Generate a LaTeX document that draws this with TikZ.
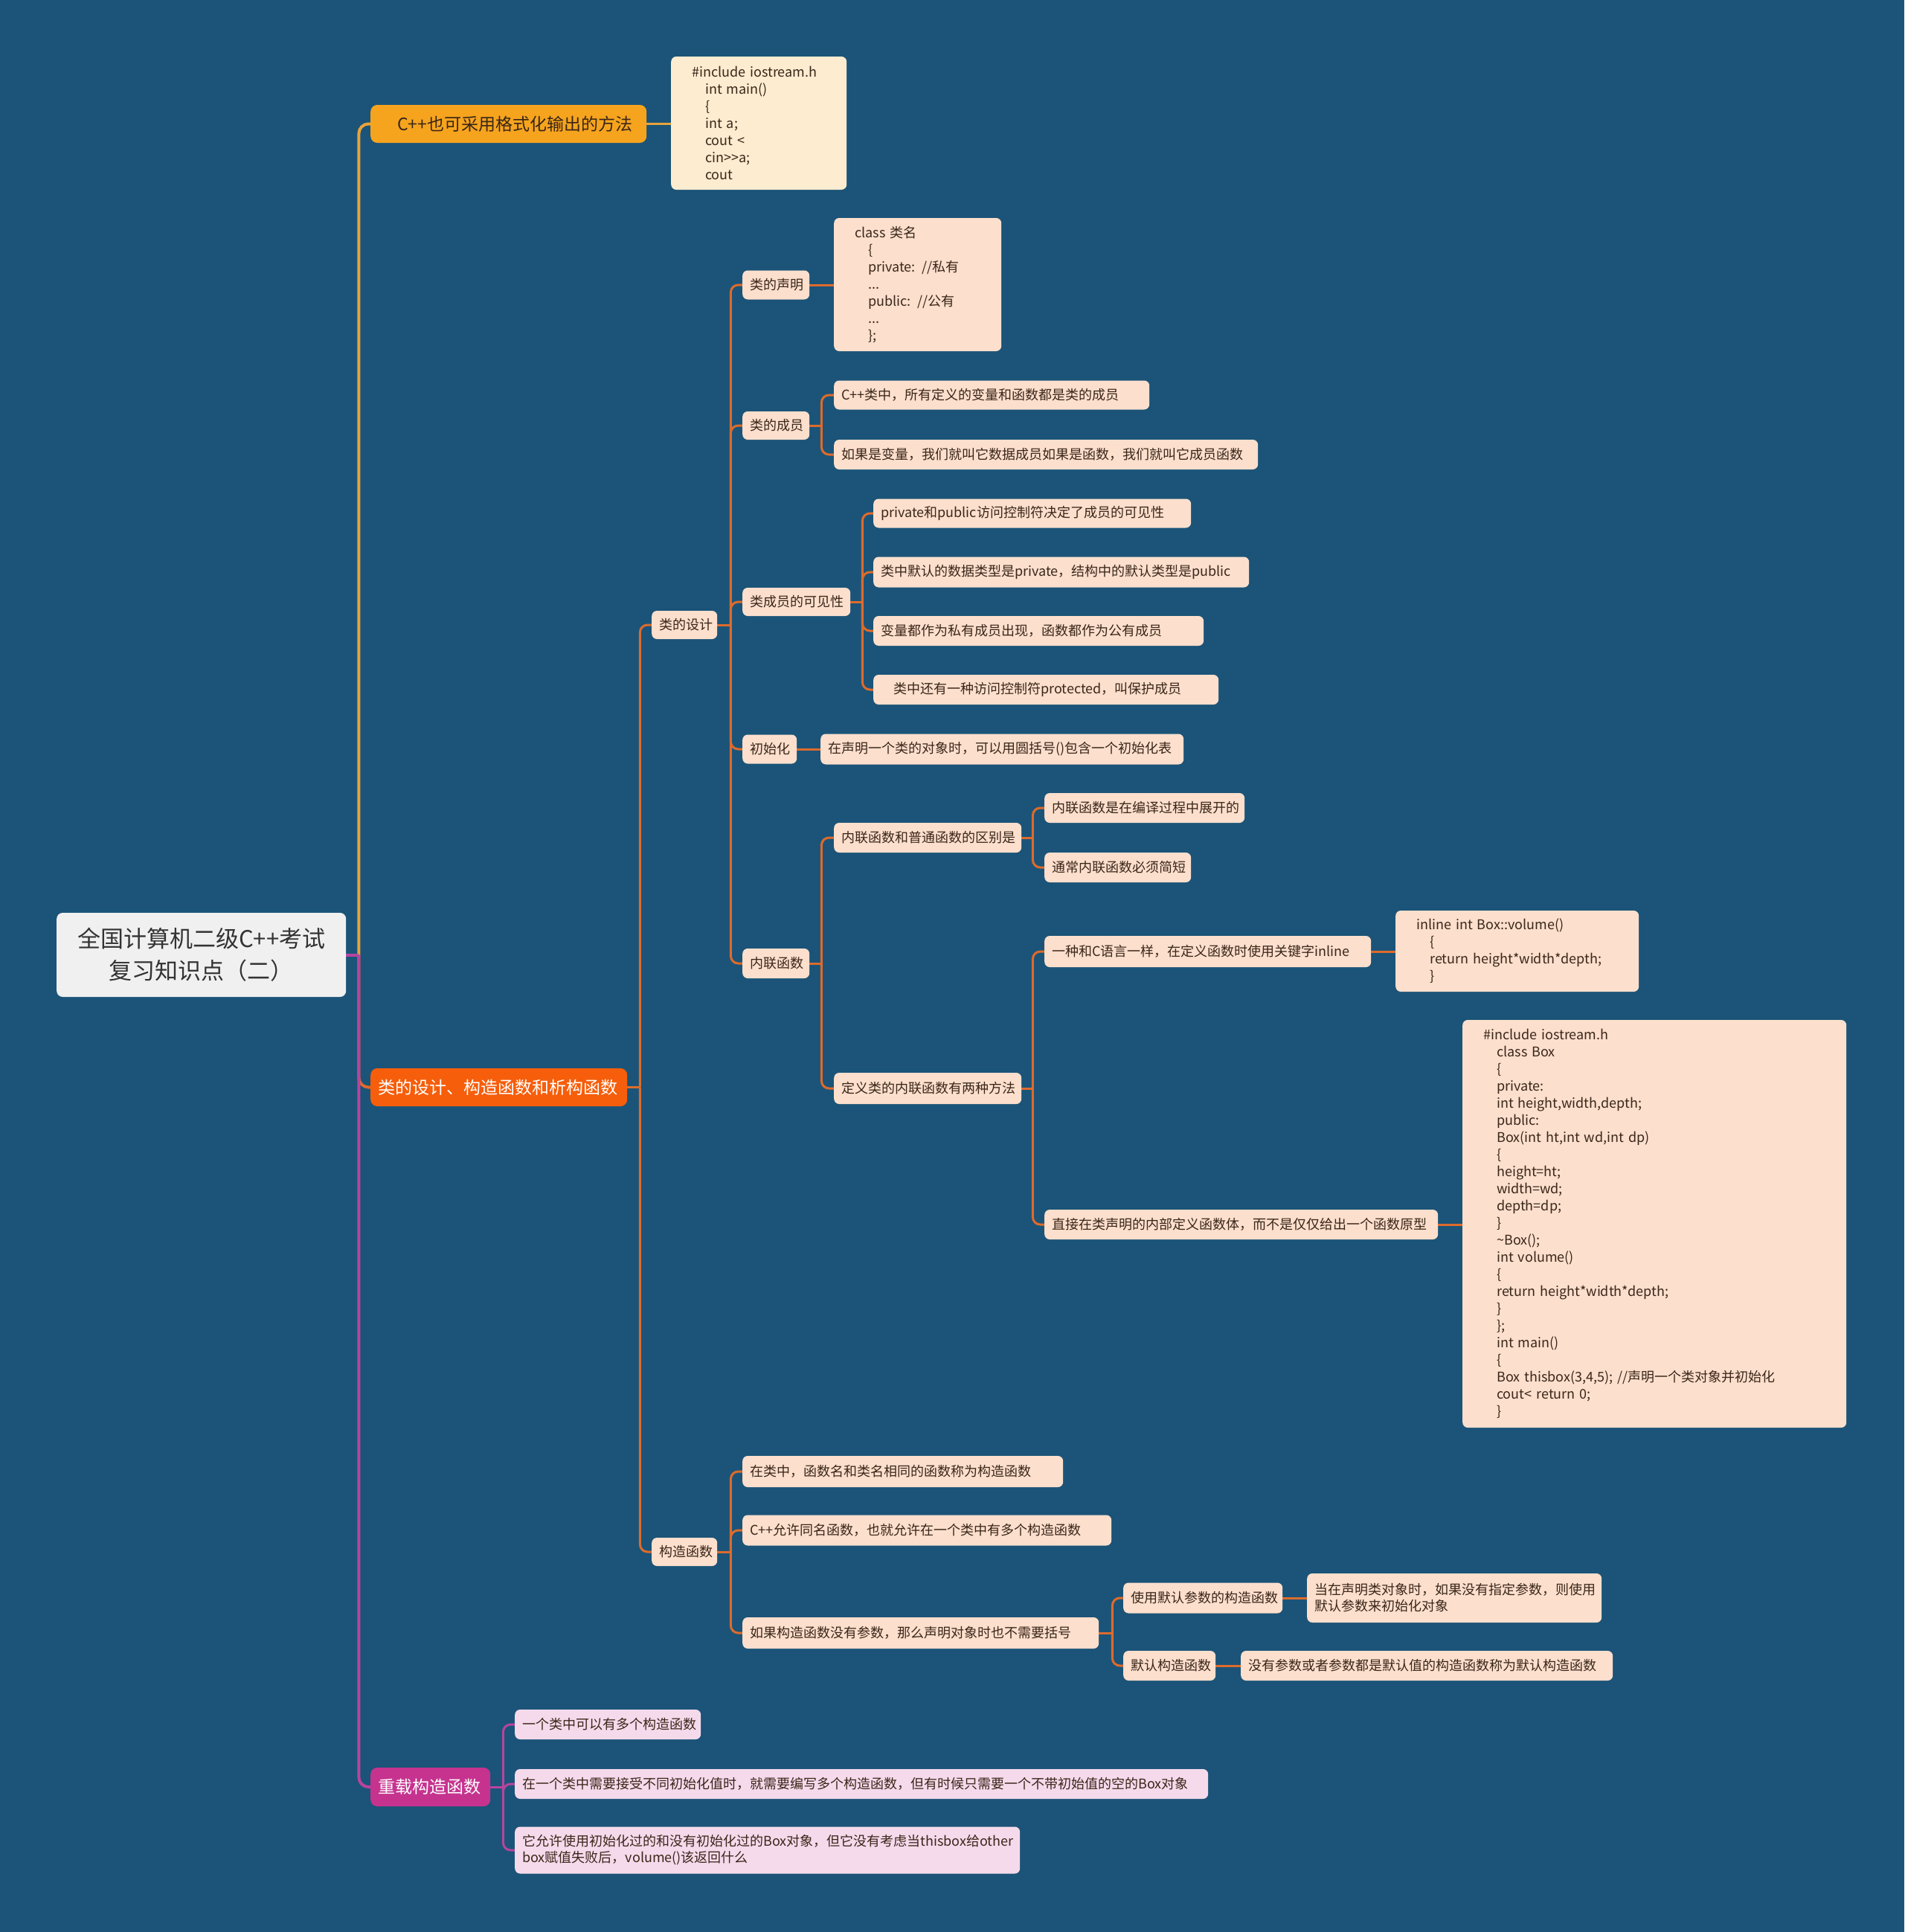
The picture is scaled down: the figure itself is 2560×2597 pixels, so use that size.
\documentclass[tikz,border=0pt]{standalone}
\usepackage{fontspec}
\setmainfont{Noto Sans CJK SC}
\usetikzlibrary{calc}
\setlength{\parindent}{0pt}
\definecolor{bgc}{HTML}{1B5478}
\definecolor{leafc}{HTML}{FCDFCD}
\definecolor{creamc}{HTML}{FDECD0}
\definecolor{pinkc}{HTML}{F5DAEC}
\definecolor{rootc}{HTML}{F0F0F0}
\definecolor{bonec}{HTML}{F6A41E}
\definecolor{btwoc}{HTML}{F65E0B}
\definecolor{bthreec}{HTML}{C6338F}
\definecolor{lyel}{HTML}{E9A23B}
\definecolor{lora}{HTML}{DD6B2C}
\definecolor{lmag}{HTML}{B8449E}
\definecolor{txtc}{HTML}{3A2618}
\definecolor{roottxt}{HTML}{333333}
\newcommand{\cind}{\hspace*{18pt}}
\pgfdeclarelayer{bglayer}
\pgfdeclarelayer{lnlayer}
\pgfsetlayers{bglayer,lnlayer,main}
\begin{document}
\begin{tikzpicture}[x=1pt,y=-1pt,
  leaf/.style={fill=leafc, rounded corners=7pt, anchor=west, inner xsep=10pt, inner ysep=0pt,
    align=left, text=txtc, font=\fontsize{18pt}{22pt}\selectfont},
  pleaf/.style={leaf, fill=pinkc},
  codebox/.style={fill=leafc, rounded corners=7pt, anchor=west, inner xsep=28pt, inner ysep=0pt,
    align=left, text=txtc, font=\fontsize{18pt}{23pt}\selectfont},
  brn/.style={rounded corners=9pt, anchor=west, inner xsep=10pt, inner ysep=0pt, align=left,
    font=\fontsize{23pt}{28pt}\selectfont},
  rootn/.style={fill=rootc, rounded corners=8pt, anchor=west, align=center, text=roottxt,
    inner sep=0pt, font=\fontsize{31pt}{43pt}\selectfont},
  lnY/.style={draw=lyel, line width=4pt, rounded corners=13pt},
  lnObig/.style={draw=lora, line width=4pt, rounded corners=13pt},
  lnM/.style={draw=lmag, line width=4pt, rounded corners=13pt},
  lnO/.style={draw=lora, line width=3pt, rounded corners=10pt},
  lnP/.style={draw=lmag, line width=3pt, rounded corners=10pt}
]
\begin{pgfonlayer}{bglayer}
\fill[bgc] (0,0) rectangle (2560,2597);
\end{pgfonlayer}
\useasboundingbox (0,0) rectangle (2560,2597);

% root
\node[rootn, minimum width=389pt, minimum height=113pt] (root) at (76,1283.5)
  {全国计算机二级C++考试\\复习知识点（二）};

% main branches
\node[brn, fill=bonec, text=txtc, text width=351pt, minimum height=51pt] (b1) at (498,166.5)
  {\hspace*{26pt}C++也可采用格式化输出的方法};
\node[brn, fill=btwoc, text=white, text width=325pt, minimum height=51pt] (b2) at (498,1461.5)
  {类的设计、构造函数和析构函数};
\node[brn, fill=bthreec, text=white, text width=141pt, minimum height=52pt] (b3) at (498,2402)
  {重载构造函数};

% branch 1 child
\node[codebox, fill=creamc, text width=180pt, minimum height=179pt] (code1) at (902,165.5)
  {\#include iostream.h\\\cind int main()\\\cind\{\\\cind int a;\\\cind cout <\\\cind cin>{}>a;\\\cind cout};

% branch 2 subtree
\node[leaf, text width=68pt, minimum height=38pt] (d1) at (876,840) {类的设计};
\node[leaf, text width=68pt, minimum height=38pt] (c2) at (876,2086) {构造函数};

\node[leaf, text width=70pt, minimum height=39pt] (e1) at (998,383) {类的声明};
\node[leaf, text width=70pt, minimum height=38pt] (e2) at (998,572) {类的成员};
\node[leaf, text width=125pt, minimum height=38pt] (e3) at (998,809) {类成员的可见性};
\node[leaf, text width=53pt, minimum height=39pt] (e4) at (998,1007) {初始化};
\node[leaf, text width=70pt, minimum height=40pt] (e5) at (998,1295) {内联函数};

\node[codebox, text width=169pt, minimum height=179pt] (code2) at (1121,382.5)
  {class 类名\\\cind\{\\\cind private: //私有\\\cind ...\\\cind public: //公有\\\cind ...\\\cind\};};

\node[leaf, text width=404pt, minimum height=39pt] (f1) at (1121,531) {C++类中，所有定义的变量和函数都是类的成员};
\node[leaf, text width=550pt, minimum height=40pt] (f2) at (1121,611) {如果是变量，我们就叫它数据成员如果是函数，我们就叫它成员函数};

\node[leaf, text width=407pt, minimum height=39pt] (g1) at (1174,690) {private和public访问控制符决定了成员的可见性};
\node[leaf, text width=485pt, minimum height=41pt] (g2) at (1174,769) {类中默认的数据类型是private，结构中的默认类型是public};
\node[leaf, text width=424pt, minimum height=40pt] (g3) at (1174,848) {变量都作为私有成员出现，函数都作为公有成员};
\node[leaf, text width=444pt, minimum height=40pt] (g4) at (1174,927) {\hspace*{17pt}类中还有一种访问控制符protected，叫保护成员};

\node[leaf, text width=468pt, minimum height=41pt] (h1) at (1103,1007) {在声明一个类的对象时，可以用圆括号()包含一个初始化表};

\node[leaf, text width=232pt, minimum height=40pt] (i1) at (1121,1126) {内联函数和普通函数的区别是};
\node[leaf, text width=232pt, minimum height=42pt] (i2) at (1121,1463) {定义类的内联函数有两种方法};

\node[leaf, text width=249pt, minimum height=40pt] (j1) at (1404,1086) {内联函数是在编译过程中展开的};
\node[leaf, text width=177pt, minimum height=40pt] (j2) at (1404,1166) {通常内联函数必须简短};

\node[leaf, text width=419pt, minimum height=42pt] (k1) at (1404,1279) {一种和C语言一样，在定义函数时使用关键字inline};
\node[leaf, text width=509pt, minimum height=40pt] (k2) at (1404,1646) {直接在类声明的内部定义函数体，而不是仅仅给出一个函数原型};

\node[codebox, text width=271pt, minimum height=109pt] (k1c) at (1876,1278.5)
  {inline int Box::volume()\\\cind\{\\\cind return height*width*depth;\\\cind\}};
\node[codebox, text width=460pt, minimum height=548pt] (k2c) at (1966,1645)
  {\#include iostream.h\\
   \cind class Box\\
   \cind\{\\
   \cind private:\\
   \cind int height,width,depth;\\
   \cind public:\\
   \cind Box(int ht,int wd,int dp)\\
   \cind\{\\
   \cind height=ht;\\
   \cind width=wd;\\
   \cind depth=dp;\\
   \cind\}\\
   \cind\textasciitilde Box();\\
   \cind int volume()\\
   \cind\{\\
   \cind return height*width*depth;\\
   \cind\}\\
   \cind\};\\
   \cind int main()\\
   \cind\{\\
   \cind Box thisbox(3,4,5); //声明一个类对象并初始化\\
   \cind cout< return 0;\\
   \cind\}};

\node[leaf, text width=411pt, minimum height=42pt] (m1) at (998,1978) {在类中，函数名和类名相同的函数称为构造函数};
\node[leaf, text width=476pt, minimum height=41pt] (m2) at (998,2057) {C++允许同名函数，也就允许在一个类中有多个构造函数};
\node[leaf, text width=459pt, minimum height=42pt] (m3) at (998,2195) {如果构造函数没有参数，那么声明对象时也不需要括号};

\node[leaf, text width=194pt, minimum height=41pt] (n1) at (1510,2148) {使用默认参数的构造函数};
\node[leaf, text width=376pt, minimum height=66pt] (n1c) at (1757,2148) {当在声明类对象时，如果没有指定参数，则使用\\默认参数来初始化对象};
\node[leaf, text width=104pt, minimum height=40pt] (n2) at (1510,2239) {默认构造函数};
\node[leaf, text width=480pt, minimum height=40pt] (n2c) at (1668,2239) {没有参数或者参数都是默认值的构造函数称为默认构造函数};

% branch 3 subtree
\node[pleaf, text width=230pt, minimum height=40pt] (p1) at (692,2318) {一个类中可以有多个构造函数};
\node[pleaf, text width=912pt, minimum height=40pt] (p2) at (692,2398) {在一个类中需要接受不同初始化值时，就需要编写多个构造函数，但有时候只需要一个不带初始值的空的Box对象};
\node[pleaf, text width=659pt, minimum height=63pt] (p3) at (692,2487) {它允许使用初始化过的和没有初始化过的Box对象，但它没有考虑当thisbox给other\\box赋值失败后，volume()该返回什么};

% connectors
\begin{pgfonlayer}{lnlayer}
\coordinate (J0) at ($(root.east)+(17,0)$);
\draw[lnObig] (J0) |- (b2.west);
\draw[lnY] (J0) |- (b1.west);
\draw[lnM] (J0) |- (b3.west);
\draw[lnM, rounded corners=0pt] (root.east) -- (J0);

\draw[lnY, line width=3.5pt] (b1.east) -- (b1.east -| code1.west);

\coordinate (J2) at ($(b2.east)+(17,0)$);
\draw[lnO] (b2.east) -- (J2);
\foreach \c in {d1,c2} \draw[lnO] (J2) |- (\c.west);

\coordinate (J3) at ($(d1.east)+(18,0)$);
\draw[lnO] (d1.east) -- (J3);
\foreach \c in {e1,e2,e3,e4,e5} \draw[lnO] (J3) |- (\c.west);

\draw[lnO] (e1.east) -- (e1.east -| code2.west);

\coordinate (J4) at ($(e2.east)+(16,0)$);
\draw[lnO] (e2.east) -- (J4);
\foreach \c in {f1,f2} \draw[lnO] (J4) |- (\c.west);

\coordinate (J5) at ($(e3.east)+(16,0)$);
\draw[lnO] (e3.east) -- (J5);
\foreach \c in {g1,g2,g3,g4} \draw[lnO] (J5) |- (\c.west);

\draw[lnO] (e4.east) -- (e4.east -| h1.west);

\coordinate (J6) at ($(e5.east)+(16,0)$);
\draw[lnO] (e5.east) -- (J6);
\foreach \c in {i1,i2} \draw[lnO] (J6) |- (\c.west);

\coordinate (J7) at ($(i1.east)+(15,0)$);
\draw[lnO] (i1.east) -- (J7);
\foreach \c in {j1,j2} \draw[lnO] (J7) |- (\c.west);

\coordinate (J8) at ($(i2.east)+(15,0)$);
\draw[lnO] (i2.east) -- (J8);
\foreach \c in {k1,k2} \draw[lnO] (J8) |- (\c.west);

\draw[lnO] (k1.east) -- (k1.east -| k1c.west);
\draw[lnO] (k2.east) -- (k2.east -| k2c.west);

\coordinate (J9) at ($(c2.east)+(18,0)$);
\draw[lnO] (c2.east) -- (J9);
\foreach \c in {m1,m2,m3} \draw[lnO] (J9) |- (\c.west);

\coordinate (J10) at ($(m3.east)+(18,0)$);
\draw[lnO] (m3.east) -- (J10);
\foreach \c in {n1,n2} \draw[lnO] (J10) |- (\c.west);

\draw[lnO] (n1.east) -- (n1.east -| n1c.west);
\draw[lnO] (n2.east) -- (n2.east -| n2c.west);

\coordinate (J11) at ($(b3.east)+(17,0)$);
\draw[lnP] (b3.east) -- (J11);
\foreach \c in {p1,p2,p3} \draw[lnP] (J11) |- (\c.west);
\end{pgfonlayer}
\end{tikzpicture}
\end{document}
